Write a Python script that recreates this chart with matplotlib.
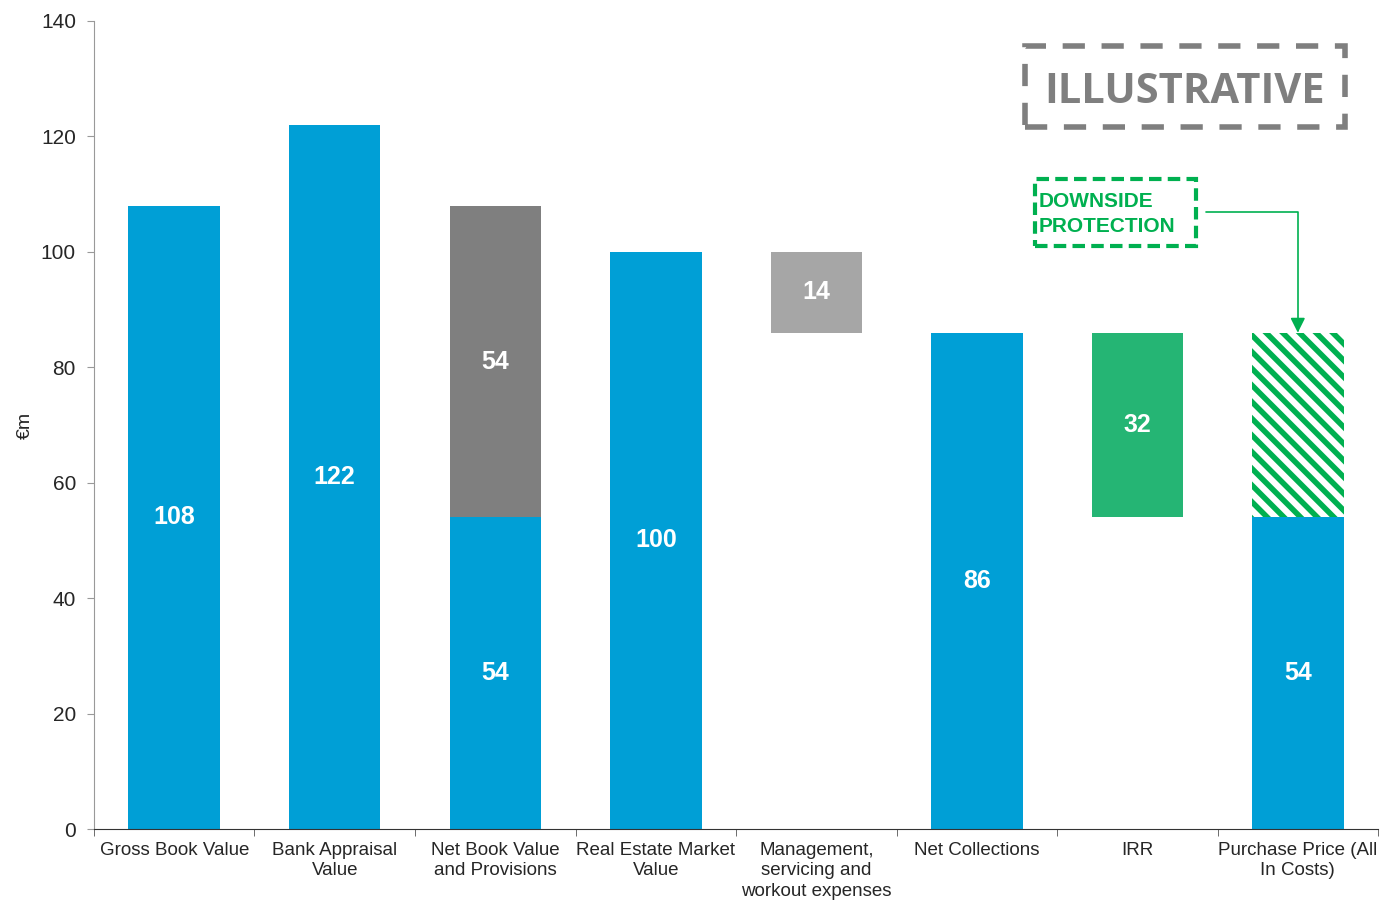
import numpy as np
import matplotlib.pyplot as plt
from matplotlib.patches import Rectangle

plt.rcParams['font.family'] = ['Liberation Sans', 'DejaVu Sans']
plt.rcParams['hatch.linewidth'] = 4

# data
categories = ['Gross Book Value', 'Bank Appraisal\nValue', 'Net Book Value\nand Provisions',
              'Real Estate Market\nValue', 'Management,\nservicing and\nworkout expenses',
              'Net Collections', 'IRR', 'Purchase Price (All\nIn Costs)']
base_vals = [0, 0, 0, 0, 86, 0, 54, 0]
main_vals = [108, 122, 54, 100, 14, 86, 32, 54]
top_vals = [0, 0, 54, 0, 0, 0, 0, 32]      # stacked segment on top
top_labels = ['', '', '54', '', '', '', '', '']
main_labels = ['108', '122', '54', '100', '14', '86', '32', '54']

BLUE = '#009FD6'
DARK_GREY = '#7F7F7F'
LIGHT_GREY = '#A6A6A6'
GREEN = '#25B574'
HATCH_GREEN = '#00B050'
TXT = '#262626'
main_colors = [BLUE, BLUE, BLUE, BLUE, LIGHT_GREY, BLUE, GREEN, BLUE]

fig = plt.figure(figsize=(13.8, 9.01), dpi=100)
ax = fig.add_axes([0.0681, 0.0799, 0.9305, 0.8968])

x = np.arange(len(categories))
w = 0.57
ax.bar(x, main_vals, w, bottom=base_vals, color=main_colors, zorder=2)

for i, t in enumerate(top_vals):
    if t == 0:
        continue
    b = base_vals[i] + main_vals[i]
    if i == 7:
        ax.bar(x[i], t, w, bottom=b, color='white', edgecolor=HATCH_GREEN,
               hatch='\\\\', linewidth=0, zorder=2)
    else:
        ax.bar(x[i], t, w, bottom=b, color=DARK_GREY, zorder=2)
        ax.text(x[i], b + t / 2, top_labels[i], ha='center', va='center',
                color='white', fontsize=18, fontweight='bold', zorder=3)

for i, v in enumerate(main_vals):
    ax.text(x[i], base_vals[i] + v / 2, main_labels[i], ha='center', va='center',
            color='white', fontsize=18, fontweight='bold', zorder=3)

ax.set_xlim(-0.5, len(categories) - 0.5)
ax.set_ylim(0, 140)
ax.set_yticks(np.arange(0, 141, 20))
ax.set_xticks(x)
ax.set_xticklabels(categories, fontsize=13.5, color=TXT, linespacing=1.27)
ax.set_xticks(np.arange(-0.5, len(categories), 1), minor=True)
ax.tick_params(axis='x', which='major', length=0, pad=9)
ax.tick_params(axis='x', which='minor', length=5, color='#555555')
ax.tick_params(axis='y', length=5, color='#999999', labelsize=15, labelcolor=TXT, pad=8)
for s in ['top', 'right']:
    ax.spines[s].set_visible(False)
ax.spines['left'].set_color('#999999')
ax.spines['bottom'].set_color('#333333')
ax.set_ylabel('€m', fontsize=14, color=TXT)
ax.yaxis.set_label_coords(-0.047, 0.5)

# ILLUSTRATIVE stamp
ax.add_patch(Rectangle((0.725, 0.869), 0.249, 0.1, transform=ax.transAxes, fill=False,
                       edgecolor='#7F7F7F', linewidth=4, linestyle=(0, (4, 3)), clip_on=False))
ax.text(0.8495, 0.912, 'ILLUSTRATIVE', transform=ax.transAxes, ha='center', va='center',
        fontsize=30, fontweight='bold', color='#7F7F7F', family='Open Sans')

# downside protection box
ax.add_patch(Rectangle((0.733, 0.722), 0.125, 0.083, transform=ax.transAxes, fill=False,
                       edgecolor=HATCH_GREEN, linewidth=3, linestyle=(0, (3, 1.5)), clip_on=False))
ax.text(0.7355, 0.761, 'DOWNSIDE\nPROTECTION', transform=ax.transAxes, ha='left', va='center',
        fontsize=15, fontweight='bold', color=HATCH_GREEN, linespacing=1.35)
ax.annotate('', xy=(x[7], base_vals[7] + main_vals[7] + top_vals[7]),
            xytext=(0.866, 0.763), textcoords='axes fraction',
            arrowprops=dict(arrowstyle='-|>', color=HATCH_GREEN, lw=1.2,
                            connectionstyle='angle,angleA=0,angleB=90,rad=0',
                            mutation_scale=22, shrinkA=0, shrinkB=0))

fig.savefig('out.png', dpi=100)
